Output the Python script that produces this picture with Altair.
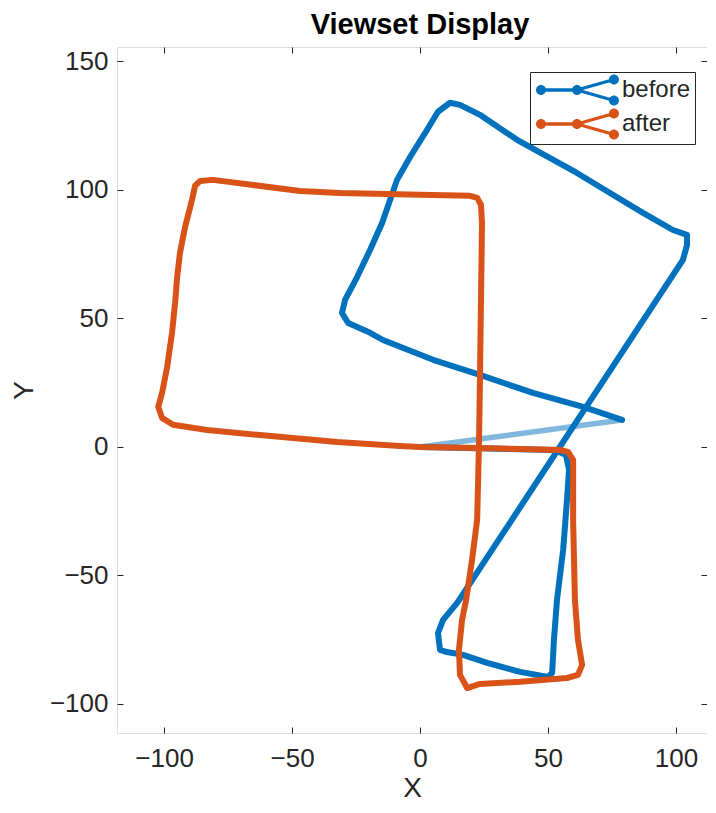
import math
import altair as alt
import pandas as pd

# ---------------- data ----------------
series_names = ["before", "after"]
series_colors = ["#0072BD", "#D95319"]
link_color = "#82B8DE"

before_x = [0.0, 52.7, 57.0, 58.2, 57.4, 55.9, 53.5, 52.3, 51.6, 50.0, 39.1, 26.2, 16.8, 10.5, 7.8,
            7.0, 9.0, 14.5, 102.7, 104.3, 104.3, 98.8, 87.1, 74.2, 61.3, 37.9, 23.4, 15.6, 11.7,
            7.0, 2.7, -3.9, -9.0, -14.8, -19.5, -24.6, -29.3, -30.5, -28.1, -19.5, -14.5, 5.1,
            23.4, 44.1, 63.7, 78.9]
before_y = [0.0, -1.2, -3.1, -8.9, -20.6, -40.1, -59.5, -75.1, -87.9, -89.5, -87.5, -84.0, -80.9,
            -79.8, -79.0, -72.4, -67.3, -60.7, 72.8, 78.6, 82.5, 84.4, 91.1, 98.8, 106.6, 119.5,
            129.2, 133.1, 133.9, 130.4, 123.3, 112.8, 103.9, 87.2, 76.7, 66.1, 57.2, 52.1, 48.2,
            44.4, 41.6, 33.9, 28.0, 21.0, 15.6, 10.5]

after_x = [0.0, 23.4, 39.1, 54.7, 57.8, 59.8, 59.8, 60.5, 61.7, 63.3, 61.7, 57.4, 39.1, 23.4, 18.4,
           15.6, 15.2, 16.4, 18.0, 20.3, 22.3, 23.0, 23.4, 23.8, 24.2, 23.8, 22.3, 19.5, 0.0,
           -31.3, -46.9, -65.2, -80.9, -85.9, -87.9, -89.1, -91.8, -93.8, -94.9, -95.7, -96.9,
           -98.8, -100.8, -102.3, -100.8, -96.5, -83.2, -63.7, -32.4, -7.8, 0.0]
after_y = [0.0, -0.4, -0.8, -1.2, -1.9, -5.1, -28.4, -59.5, -75.1, -84.8, -88.7, -89.9, -91.4,
           -92.2, -93.8, -88.7, -79.0, -67.3, -59.5, -44.0, -28.4, 0.0, 26.1, 57.2, 87.2, 94.2,
           96.9, 97.7, 98.1, 98.8, 99.6, 101.9, 103.9, 103.5, 101.6, 96.1, 85.6, 75.5, 66.1, 56.0,
           44.4, 31.1, 21.0, 15.6, 11.3, 8.6, 6.6, 4.7, 1.9, 0.4, 0.0]

link_x = [78.9, 0.0]
link_y = [10.5, 0.0]

x_ticks = [-100, -50, 0, 50, 100]
y_ticks = [-100, -50, 0, 50, 100, 150]
x_domain = [-118.4, 112.1]
y_domain = [-111.3, 155.6]

FONT = "Liberation Sans"
INK = "#262626"

df_before = pd.DataFrame({"x": before_x, "y": before_y, "i": list(range(len(before_x))), "series": "before"})
df_after = pd.DataFrame({"x": after_x, "y": after_y, "i": list(range(len(after_x))), "series": "after"})
df_link = pd.DataFrame({"x": link_x, "y": link_y, "i": [0, 1]})
df_nodes = pd.concat([df_before, df_after], ignore_index=True)


# ---------------- legend glyph (nodes + edges) as an SVG path ----------------
def _poly(pts):
    n = len(pts)
    area = sum(pts[k][0] * pts[(k + 1) % n][1] - pts[(k + 1) % n][0] * pts[k][1] for k in range(n))
    if area < 0:
        pts = pts[::-1]
    return "M" + " L".join(f"{px:.3f},{py:.3f}" for px, py in pts) + " Z"


def _circle(cx, cy, r, n=18):
    return _poly([(cx + r * math.cos(2 * math.pi * k / n), cy + r * math.sin(2 * math.pi * k / n)) for k in range(n)])


def _bar(p, q, hw):
    dx, dy = q[0] - p[0], q[1] - p[1]
    L = math.hypot(dx, dy)
    nx, ny = -dy / L * hw, dx / L * hw
    return _poly([(p[0] + nx, p[1] + ny), (q[0] + nx, q[1] + ny), (q[0] - nx, q[1] - ny), (p[0] - nx, p[1] - ny)])


n_left, n_mid, n_up, n_dn = (-0.5, 0.0), (2.07, 0.0), (4.71, -0.75), (4.71, 0.75)
glyph = " ".join([
    _bar(n_left, n_mid, 0.12), _bar(n_mid, n_up, 0.12), _bar(n_mid, n_dn, 0.12),
    _circle(*n_left, 0.36), _circle(*n_mid, 0.36), _circle(*n_up, 0.36), _circle(*n_dn, 0.36),
])

xscale = alt.Scale(domain=x_domain, nice=False, zero=False)
yscale = alt.Scale(domain=y_domain, nice=False, zero=False)

# nodes layer (tiny, beneath the lines) – carries the legend
nodes = alt.Chart(df_nodes).mark_point(filled=True, size=8, opacity=1, shape="circle").encode(
    x=alt.X("x:Q", scale=xscale, axis=None),
    y=alt.Y("y:Q", scale=yscale, axis=None),
    color=alt.Color(
        "series:N",
        scale=alt.Scale(domain=series_names, range=series_colors),
        legend=alt.Legend(
            title=None, orient="none", legendX=413, legendY=25, direction="vertical",
            symbolType=glyph, symbolSize=784, symbolStrokeWidth=0, symbolOpacity=1,
            labelFont=FONT, labelFontSize=24, labelColor=INK, labelOffset=60,
            padding=4, rowPadding=2, strokeColor=INK, fillColor="white",
        ),
    ),
)

# loop-closure connection – also carries the top/right tick axes
link = alt.Chart(df_link).mark_line(color=link_color, strokeWidth=5.5, strokeCap="round").encode(
    x=alt.X("x:Q", scale=xscale, axis=alt.Axis(
        orient="top", values=x_ticks, labels=False, title=None, domain=False, grid=False,
        ticks=True, tickSize=6, tickColor=INK, tickWidth=1, offset=-6)),
    y=alt.Y("y:Q", scale=yscale, axis=alt.Axis(
        orient="right", values=y_ticks, labels=False, title=None, domain=False, grid=False,
        ticks=True, tickSize=6, tickColor=INK, tickWidth=1, offset=-6)),
    order="i:Q",
)

before_line = alt.Chart(df_before).mark_line(
    color=series_colors[0], strokeWidth=6, strokeJoin="round", strokeCap="round"
).encode(
    x=alt.X("x:Q", scale=xscale, axis=alt.Axis(
        orient="bottom", values=x_ticks, title="X", domain=False, grid=False,
        ticks=True, tickSize=6, tickColor=INK, tickWidth=1, offset=-6,
        labelFont=FONT, labelFontSize=26, labelColor=INK, labelPadding=12,
        titleFont=FONT, titleFontSize=28, titleFontWeight="normal", titleColor=INK, titlePadding=3)),
    y=alt.Y("y:Q", scale=yscale, axis=alt.Axis(
        orient="left", values=y_ticks, title="Y", domain=False, grid=False,
        ticks=True, tickSize=6, tickColor=INK, tickWidth=1, offset=-6,
        labelFont=FONT, labelFontSize=26, labelColor=INK, labelPadding=9,
        titleFont=FONT, titleFontSize=28, titleFontWeight="normal", titleColor=INK, titlePadding=11)),
    order="i:Q",
)

after_line = alt.Chart(df_after).mark_line(
    color=series_colors[1], strokeWidth=6, strokeJoin="round", strokeCap="round"
).encode(
    x=alt.X("x:Q", scale=xscale, axis=None),
    y=alt.Y("y:Q", scale=yscale, axis=None),
    order="i:Q",
)

chart = alt.layer(nodes, link, before_line, after_line).resolve_axis(
    x="independent", y="independent"
).properties(
    width=590,
    height=686,
    autosize=alt.AutoSizeParams(type="none"),
    padding={"left": 109, "top": 39, "right": 0, "bottom": 72},
    title=alt.TitleParams(
        "Viewset Display", font=FONT, fontSize=29, fontWeight="bold", color="#000000",
        anchor="middle", frame="group", baseline="alphabetic", offset=-16, dx=8,
    ),
).configure_view(
    stroke=INK, strokeWidth=1
).configure(background="white")

chart.save("out.html", embed_options={"renderer": "svg", "actions": False})
